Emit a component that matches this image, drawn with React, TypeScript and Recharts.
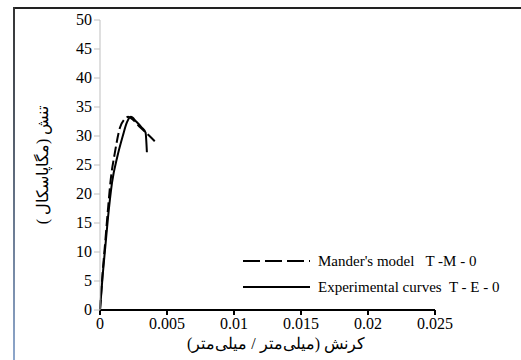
import { LineChart, Line, XAxis, YAxis, Label } from 'recharts'

const xTicks = [0, 0.005, 0.01, 0.015, 0.02, 0.025]
const yTicks = [0, 5, 10, 15, 20, 25, 30, 35, 40, 45, 50]

const manderStrain = [0, 0.0002, 0.0004, 0.0006, 0.0008, 0.0011, 0.0015, 0.0018, 0.0021, 0.0025, 0.003, 0.0036, 0.0043]
const manderStress = [0, 6.5, 12, 17.5, 22.5, 27, 31.5, 32.8, 33.3, 32.7, 31.5, 30.2, 28.6]

const expStrain = [0, 0.0002, 0.0004, 0.0006, 0.0009, 0.0013, 0.0017, 0.002, 0.0023, 0.0027, 0.0031, 0.0034, 0.0035]
const expStress = [0, 6, 11, 16, 22, 26.5, 30, 32.3, 33.3, 32.5, 31.5, 30.6, 27.2]

const legendLabels = ["Mander's model   T -M - 0", 'Experimental curves  T - E - 0']

const manderData = manderStrain.map((x, i) => ({ x, y: manderStress[i] }))
const expData = expStrain.map((x, i) => ({ x, y: expStress[i] }))

const font = 'Liberation Serif, serif'
const textStyle = { fontFamily: font, fontSize: 16, fill: '#000' }

// custom ticks so the serif font is really used
const XTick = (p: any) => (
  <text x={p.x} y={p.y} dy={12} textAnchor="middle" style={textStyle}>
    {p.payload.value}
  </text>
)
const YTick = (p: any) => (
  <text x={p.x} y={p.y} dy={5} textAnchor="end" style={textStyle}>
    {p.payload.value}
  </text>
)

function LegendBox() {
  const row = (dash: string | undefined, text: string) => (
    <div style={{ display: 'flex', alignItems: 'center', height: 26 }}>
      <svg width={70} height={10}>
        <line x1={0} y1={5} x2={67} y2={5} stroke="#000" strokeWidth={2} strokeDasharray={dash} />
      </svg>
      <span style={{ fontFamily: font, fontSize: 15, whiteSpace: 'pre', marginLeft: 5 }}>{text}</span>
    </div>
  )
  return (
    <div style={{ position: 'absolute', left: 243, top: 248 }}>
      {row('17 5', legendLabels[0])}
      {row(undefined, legendLabels[1])}
    </div>
  )
}

export default function App() {
  return (
    <div style={{ position: 'absolute', left: 0, top: 0, width: 521, height: 360, background: '#fff', fontFamily: font }}>
      <div style={{ position: 'absolute', left: 13, top: 7, width: 520, height: 2, background: '#222' }} />
      <div
        style={{
          position: 'absolute', left: 13, top: 7, width: 2, height: 360,
          background: 'linear-gradient(#333, #8fa9cf)',
        }}
      />
      <LineChart width={521} height={360} margin={{ top: 20, right: 86, bottom: 0, left: 0 }}>
        <XAxis
          type="number"
          dataKey="x"
          domain={[0, 0.025]}
          ticks={xTicks}
          interval={0}
          axisLine={{ stroke: '#000', strokeWidth: 2 }}
          tickLine={{ stroke: '#000', strokeWidth: 2 }}
          tickSize={5}
          height={50}
          tick={XTick}
        >
          <Label
            value="کرنش (میلی‌متر / میلی‌متر)"
            content={() => (
              <text x={276} y={349} textAnchor="middle" direction="rtl" style={textStyle}>
                کرنش (میلی‌متر / میلی‌متر)
              </text>
            )}
          />
        </XAxis>
        <YAxis
          type="number"
          dataKey="y"
          domain={[0, 50]}
          ticks={yTicks}
          interval={0}
          width={100}
          axisLine={{ stroke: '#bfbfbf' }}
          tickLine={{ stroke: '#bfbfbf' }}
          tickSize={6}
          tick={YTick}
        >
          <Label
            value="تنش (مگاپاسکال )"
            content={() => (
              <text
                x={42}
                y={165}
                transform="rotate(-90 42 165)"
                textAnchor="middle"
                dominantBaseline="central"
                direction="rtl"
                style={textStyle}
              >
                تنش (مگاپاسکال )
              </text>
            )}
          />
        </YAxis>
        <Line
          data={manderData}
          dataKey="y"
          type="monotone"
          stroke="#000"
          strokeWidth={2}
          strokeDasharray="10 4"
          dot={false}
          isAnimationActive={false}
        />
        <Line
          data={expData}
          dataKey="y"
          type="monotone"
          stroke="#000"
          strokeWidth={2}
          dot={false}
          isAnimationActive={false}
        />
      </LineChart>
      <LegendBox />
    </div>
  )
}
